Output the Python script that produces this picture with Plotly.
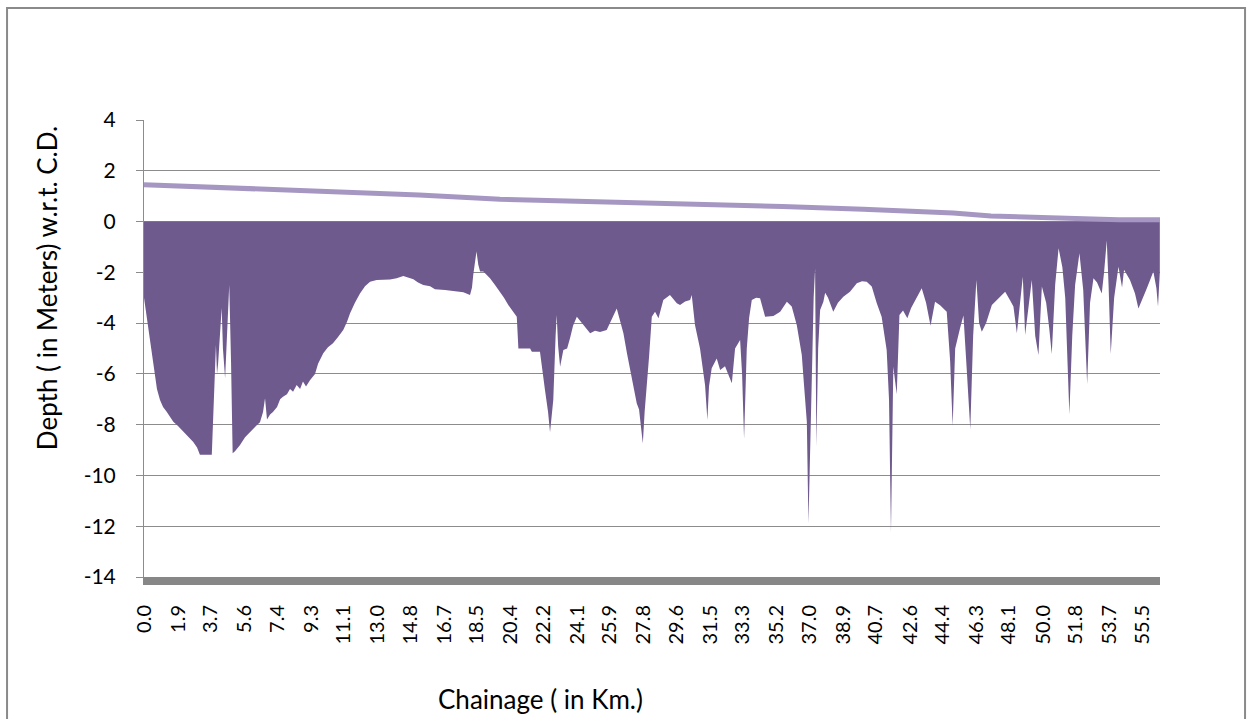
import plotly.graph_objects as go

# Bed profile along the channel: chainage (km) and depth (m) w.r.t. Chart Datum
chainage_km = [
    0.00, 0.06, 0.17, 0.33, 0.45, 0.61, 0.72, 0.89, 1.06, 1.26, 1.45, 1.63, 1.89, 2.19, 2.45, 2.74, 2.95, 3.11,
    3.77, 3.84, 3.92, 4.00, 4.06, 4.12, 4.32, 4.39, 4.51, 4.62, 4.74, 4.84, 4.93, 5.06, 5.34, 5.62, 5.90, 6.27,
    6.45, 6.62, 6.73, 6.84, 7.01, 7.17, 7.40, 7.57, 7.73, 7.95, 8.12, 8.29, 8.49, 8.68, 8.84, 9.01, 9.23, 9.51,
    9.68, 9.97, 10.23, 10.51, 10.79, 11.08, 11.29, 11.46, 11.73, 12.01, 12.29, 12.57, 12.94, 13.68, 14.05, 14.42,
    14.68, 14.98, 15.24, 15.53, 15.91, 16.18, 16.74, 17.30, 17.76, 18.13, 18.24, 18.31, 18.49, 18.59, 18.69,
    18.87, 19.24, 19.52, 19.80, 20.02, 20.26, 20.47, 20.73, 20.82, 21.47, 21.57, 22.02, 22.30, 22.47, 22.58,
    22.76, 22.89, 22.95, 23.03, 23.14, 23.32, 23.53, 23.69, 23.86, 24.07, 24.25, 24.43, 24.64, 24.81, 25.08,
    25.36, 25.73, 25.92, 26.10, 26.29, 26.47, 26.66, 26.86, 27.12, 27.40, 27.53, 27.74, 27.84, 27.96, 28.09,
    28.24, 28.42, 28.61, 28.88, 29.25, 29.63, 29.81, 30.09, 30.37, 30.46, 30.64, 30.92, 31.20, 31.33, 31.42,
    31.57, 31.85, 32.04, 32.31, 32.48, 32.69, 32.87, 33.15, 33.26, 33.37, 33.52, 33.65, 33.80, 34.04, 34.26,
    34.54, 35.00, 35.38, 35.75, 36.02, 36.30, 36.58, 36.71, 36.86, 36.95, 37.04, 37.16, 37.24, 37.32, 37.39,
    37.49, 37.60, 37.78, 37.88, 38.04, 38.33, 38.59, 38.89, 39.26, 39.64, 39.93, 40.19, 40.47, 40.75, 41.02,
    41.30, 41.43, 41.54, 41.67, 41.86, 42.01, 42.21, 42.45, 42.66, 42.88, 43.25, 43.49, 43.74, 43.99, 44.27,
    44.64, 44.83, 44.97, 45.11, 45.38, 45.57, 45.75, 45.95, 46.11, 46.29, 46.44, 46.59, 46.83, 47.15, 47.61,
    47.89, 48.16, 48.35, 48.54, 48.67, 48.87, 49.00, 49.17, 49.37, 49.56, 49.74, 49.93, 50.17, 50.34, 50.48,
    50.67, 50.86, 51.07, 51.23, 51.46, 51.62, 51.78, 52.02, 52.23, 52.45, 52.61, 52.80, 53.00, 53.26, 53.39,
    53.54, 53.64, 53.76, 53.95, 54.19, 54.39, 54.50, 54.83, 55.11, 55.30, 55.51, 55.73, 55.95, 56.13, 56.30,
    56.39, 56.49,
]
depth_m = [
    -3.00, -3.30, -4.00, -4.73, -5.40, -6.05, -6.60, -7.03, -7.30, -7.49, -7.70, -7.89, -8.05, -8.28, -8.45, -8.68, -8.90, -9.18,
    -9.18, -8.00, -6.44, -4.86, -6.00, -5.60, -3.40, -5.00, -6.17, -4.50, -2.50, -5.50, -9.13, -9.05, -8.80, -8.50, -8.28, -8.02,
    -7.90, -7.50, -6.96, -7.80, -7.60, -7.50, -7.30, -7.00, -6.90, -6.80, -6.60, -6.70, -6.44, -6.60, -6.30, -6.50, -6.25, -6.00,
    -5.60, -5.19, -4.95, -4.79, -4.55, -4.27, -3.95, -3.61, -3.20, -2.83, -2.55, -2.37, -2.30, -2.28, -2.23, -2.14,
    -2.20, -2.27, -2.40, -2.50, -2.55, -2.67, -2.70, -2.76, -2.78, -2.89, -2.60, -2.10, -1.18, -1.70, -1.97,
    -1.97, -2.23, -2.50, -2.76, -3.00, -3.29, -3.50, -3.75, -5.00, -5.00, -5.13, -5.13, -6.64, -7.50, -8.30,
    -7.03, -4.50, -3.68, -4.90, -5.72, -5.06, -5.00, -4.60, -4.10, -3.75, -3.90, -4.07, -4.25, -4.40, -4.30,
    -4.35, -4.27, -4.00, -3.68, -3.42, -3.90, -4.40, -5.20, -6.11, -7.16, -7.40, -8.74, -7.50, -6.50, -5.30,
    -3.75, -3.55, -3.81, -3.09, -2.89, -3.22, -3.29, -3.15, -3.09, -2.89, -4.07, -5.00, -6.44, -7.82, -6.50,
    -5.78, -5.39, -5.85, -5.70, -6.00, -6.37, -5.00, -4.67, -6.00, -8.55, -5.00, -3.80, -3.09, -3.00, -3.02,
    -3.75, -3.72, -3.55, -3.16, -3.35, -4.07, -5.26, -6.50, -7.89, -11.90, -9.50, -5.50, -3.00, -1.84, -8.85,
    -5.00, -3.48, -3.16, -2.80, -3.00, -3.55, -3.20, -2.96, -2.76, -2.43, -2.35, -2.37, -2.56, -3.22, -3.75,
    -5.06, -7.00, -12.25, -5.72, -6.80, -3.68, -3.50, -3.81, -3.40, -3.09, -2.63, -3.20, -4.10, -3.16, -3.30,
    -3.55, -5.50, -8.05, -5.00, -4.20, -3.70, -5.80, -8.18, -4.50, -2.30, -4.00, -4.34, -4.00, -3.29, -2.96,
    -2.76, -3.10, -3.35, -4.40, -3.40, -2.17, -4.47, -3.40, -2.30, -4.50, -5.26, -2.56, -3.20, -4.20, -5.22,
    -2.50, -1.05, -1.80, -3.00, -7.60, -4.50, -2.50, -1.25, -2.70, -6.40, -3.20, -2.23, -2.40, -2.83, -2.00,
    -0.75, -2.50, -5.22, -3.00, -1.78, -2.60, -1.90, -2.30, -2.83, -3.42, -3.10, -2.70, -2.30, -1.97, -2.63,
    -3.35, -2.00,
]

# Chart datum level along the chainage (m)
datum_km = [0.0, 5.0, 10.0, 15.3, 19.8, 25.0, 30.0, 35.5, 40.0, 45.0, 47.1, 49.7, 53.8, 54.2, 56.5]
datum_m = [1.45, 1.33, 1.20, 1.05, 0.88, 0.80, 0.70, 0.59, 0.48, 0.34, 0.22, 0.16, 0.11, 0.07, 0.07]

# Axis tick labels
x_tick_labels = ["0.0", "1.9", "3.7", "5.6", "7.4", "9.3", "11.1", "13.0", "14.8", "16.7", "18.5",
                 "20.4", "22.2", "24.1", "25.9", "27.8", "29.6", "31.5", "33.3", "35.2", "37.0",
                 "38.9", "40.7", "42.6", "44.4", "46.3", "48.1", "50.0", "51.8", "53.7", "55.5"]
y_ticks = [4, 2, 0, -2, -4, -6, -8, -10, -12, -14]

FONT = "Lato, 'Open Sans', sans-serif"
GRID = "#8c8c8c"

fig = go.Figure()
fig.add_trace(go.Scatter(
    x=chainage_km, y=depth_m, mode="lines", fill="tozeroy",
    fillcolor="#6f5a8e", line=dict(width=0, color="#6f5a8e"),
    hoverinfo="x+y", showlegend=False,
))
fig.add_trace(go.Scatter(
    x=datum_km, y=datum_m, mode="lines",
    line=dict(width=5, color="#a697c2"),
    showlegend=False,
))

fig.update_layout(
    width=1255, height=719,
    margin=dict(l=144, r=95, t=120, b=142),
    paper_bgcolor="white", plot_bgcolor="white",
    font=dict(family=FONT, color="#000000"),
    showlegend=False,
    xaxis=dict(
        range=[0, 56.5],
        tickmode="array",
        tickvals=[float(t) for t in x_tick_labels],
        ticktext=x_tick_labels,
        tickangle=-90,
        tickfont=dict(size=20, family=FONT, color="#000"),
        ticks="", showgrid=False, zeroline=False,
        showline=True, linecolor="#878787", linewidth=8,
        ticklabelstandoff=12,
    ),
    yaxis=dict(
        range=[-14, 4],
        tickmode="array",
        tickvals=y_ticks,
        ticktext=[str(v) for v in y_ticks],
        tickfont=dict(size=21, family=FONT, color="#000"),
        ticks="outside", ticklen=7, tickcolor=GRID, tickwidth=1,
        showgrid=True, gridcolor=GRID, gridwidth=1,
        zeroline=False,
        showline=True, linecolor=GRID, linewidth=1,
        ticklabelstandoff=16,
    ),
    annotations=[
        dict(text="Chainage ( in Km.)", xref="paper", yref="paper",
             x=0.3898, y=-0.267, xanchor="center", yanchor="middle",
             showarrow=False, font=dict(size=26, family=FONT, color="#000")),
        dict(text="Depth ( in Meters) w.r.t. C.D.", xref="paper", yref="paper",
             x=-0.0955, y=0.632, xanchor="center", yanchor="middle", textangle=-90,
             showarrow=False, font=dict(size=26, family=FONT, color="#000")),
    ],
    shapes=[
        dict(type="rect", xref="paper", yref="paper",
             x0=-0.1348, x1=1.0837, y0=-0.34, y1=1.2451,
             line=dict(color="#8a8a8a", width=2), fillcolor="rgba(0,0,0,0)", layer="below"),
    ],
)

fig.write_html("out.html")
